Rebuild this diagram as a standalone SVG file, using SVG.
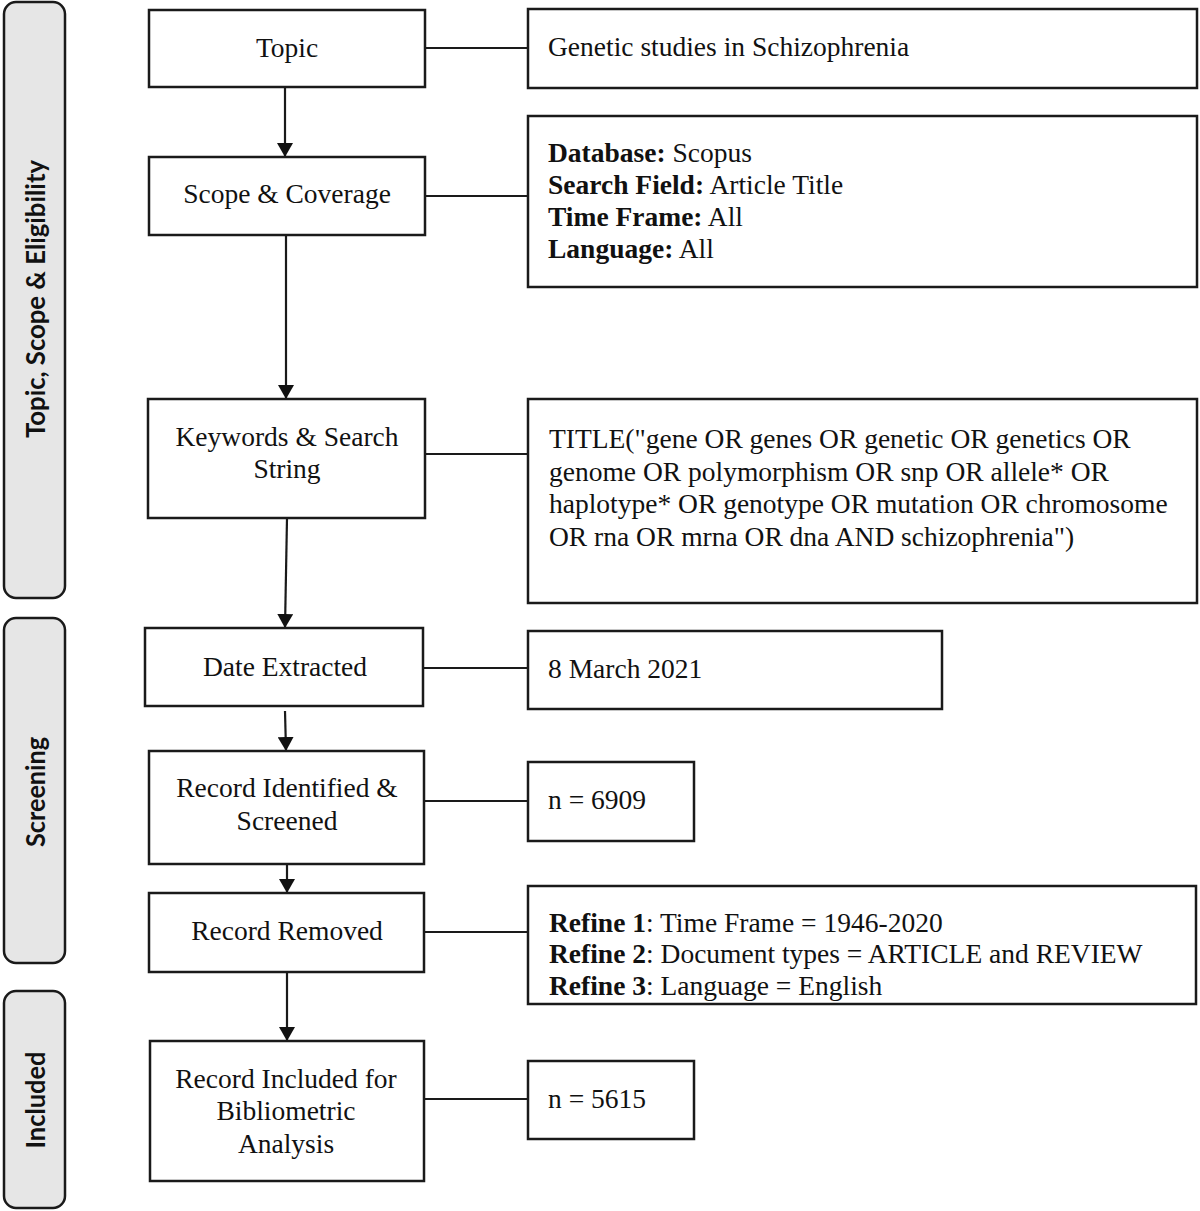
<svg xmlns="http://www.w3.org/2000/svg" width="1200" height="1211" viewBox="0 0 1200 1211">
<defs>
<marker id="arr" viewBox="0 0 14 16" refX="14" refY="8" markerWidth="14" markerHeight="16" markerUnits="userSpaceOnUse" orient="auto">
<path d="M0,0 L14,8 L0,16 Z" fill="#111"/>
</marker>
<style>
.bar{fill:#e6e6e6;stroke:#1a1a1a;stroke-width:2.5}
.box{fill:#fff;stroke:#1a1a1a;stroke-width:2.5}
.t{font-family:"Liberation Serif","Times New Roman",serif;font-size:27.5px;fill:#111}
.c{text-anchor:middle}
.b{font-weight:bold}
.side{font-family:Lato,"Open Sans",sans-serif;font-weight:bold;font-size:27px;fill:#111;text-anchor:middle}
.ln{stroke:#1a1a1a;stroke-width:2.2;fill:none}
.ar{stroke:#1a1a1a;stroke-width:2.2;fill:none;marker-end:url(#arr)}
</style>
</defs>
<rect width="1200" height="1211" fill="#fff"/>

<g id="stage-topic-scope">
<rect class="bar" x="4" y="2" width="61" height="596" rx="12"/>
<text class="side" transform="translate(45,299) rotate(-90)" textLength="278" lengthAdjust="spacingAndGlyphs">Topic, Scope &amp; Eligibility</text>
</g>
<g id="stage-screening">
<rect class="bar" x="4" y="618" width="61" height="345" rx="12"/>
<text class="side" transform="translate(45,792) rotate(-90)" textLength="110" lengthAdjust="spacingAndGlyphs">Screening</text>
</g>
<g id="stage-included">
<rect class="bar" x="4" y="991" width="61" height="217" rx="12"/>
<text class="side" transform="translate(45,1100) rotate(-90)" textLength="97" lengthAdjust="spacingAndGlyphs">Included</text>
</g>

<g id="connectors">
<line class="ln" x1="425" y1="48" x2="528" y2="48"/>
<line class="ln" x1="425" y1="196" x2="528" y2="196"/>
<line class="ln" x1="425" y1="454" x2="528" y2="454"/>
<line class="ln" x1="423" y1="668" x2="528" y2="668"/>
<line class="ln" x1="424" y1="801" x2="528" y2="801"/>
<line class="ln" x1="424" y1="932" x2="528" y2="932"/>
<line class="ln" x1="424" y1="1099" x2="528" y2="1099"/>
<line class="ar" x1="285" y1="87" x2="285" y2="157"/>
<line class="ar" x1="286" y1="235" x2="286" y2="399"/>
<line class="ar" x1="287" y1="518" x2="285" y2="628"/>
<line class="ar" x1="285" y1="711" x2="286" y2="751"/>
<line class="ar" x1="287" y1="864" x2="287" y2="893"/>
<line class="ar" x1="287" y1="972" x2="287" y2="1041"/>
</g>

<g id="topic">
<rect class="box" x="149" y="10" width="276" height="77"/>
<text class="t c" x="287" y="57">Topic</text>
</g>
<g id="scope">
<rect class="box" x="149" y="157" width="276" height="78"/>
<text class="t c" x="287" y="203">Scope &amp; Coverage</text>
</g>
<g id="keywords">
<rect class="box" x="148" y="399" width="277" height="119"/>
<text class="t c" x="287" y="446">Keywords &amp; Search</text>
<text class="t c" x="287" y="478">String</text>
</g>
<g id="date-extracted">
<rect class="box" x="145" y="628" width="278" height="78"/>
<text class="t c" x="285" y="676">Date Extracted</text>
</g>
<g id="record-identified">
<rect class="box" x="149" y="751" width="275" height="113"/>
<text class="t c" x="287" y="797">Record Identified &amp;</text>
<text class="t c" x="287" y="830">Screened</text>
</g>
<g id="record-removed">
<rect class="box" x="149" y="893" width="275" height="79"/>
<text class="t c" x="287" y="940">Record Removed</text>
</g>
<g id="record-included">
<rect class="box" x="150" y="1041" width="274" height="140"/>
<text class="t c" x="286" y="1088">Record Included for</text>
<text class="t c" x="286" y="1120">Bibliometric</text>
<text class="t c" x="286" y="1153">Analysis</text>
</g>

<g id="topic-detail">
<rect class="box" x="528" y="9" width="669" height="79"/>
<text class="t" x="548" y="56">Genetic studies in Schizophrenia</text>
</g>
<g id="scope-detail">
<rect class="box" x="528" y="116" width="669" height="171"/>
<text class="t" x="548" y="162"><tspan class="b">Database:</tspan> Scopus</text>
<text class="t" x="548" y="194"><tspan class="b">Search Field:</tspan> Article Title</text>
<text class="t" x="548" y="226"><tspan class="b">Time Frame:</tspan> All</text>
<text class="t" x="548" y="258"><tspan class="b">Language:</tspan> All</text>
</g>
<g id="search-string">
<rect class="box" x="528" y="399" width="669" height="204"/>
<text class="t" x="549" y="448">TITLE("gene OR genes OR genetic OR genetics OR</text>
<text class="t" x="549" y="480.5">genome OR polymorphism OR snp OR allele* OR</text>
<text class="t" x="549" y="513">haplotype* OR genotype OR mutation OR chromosome</text>
<text class="t" x="549" y="545.5">OR rna OR mrna OR dna AND schizophrenia")</text>
</g>
<g id="date-detail">
<rect class="box" x="528" y="631" width="414" height="78"/>
<text class="t" x="548" y="678">8 March 2021</text>
</g>
<g id="identified-count">
<rect class="box" x="528" y="762" width="166" height="79"/>
<text class="t" x="548" y="809">n = 6909</text>
</g>
<g id="refine-detail">
<rect class="box" x="528" y="886" width="668" height="118"/>
<text class="t" x="549" y="932"><tspan class="b">Refine 1</tspan>: Time Frame = 1946-2020</text>
<text class="t" x="549" y="963"><tspan class="b">Refine 2</tspan>: Document types = ARTICLE and REVIEW</text>
<text class="t" x="549" y="995"><tspan class="b">Refine 3</tspan>: Language = English</text>
</g>
<g id="included-count">
<rect class="box" x="528" y="1061" width="166" height="78"/>
<text class="t" x="548" y="1108">n = 5615</text>
</g>
</svg>
